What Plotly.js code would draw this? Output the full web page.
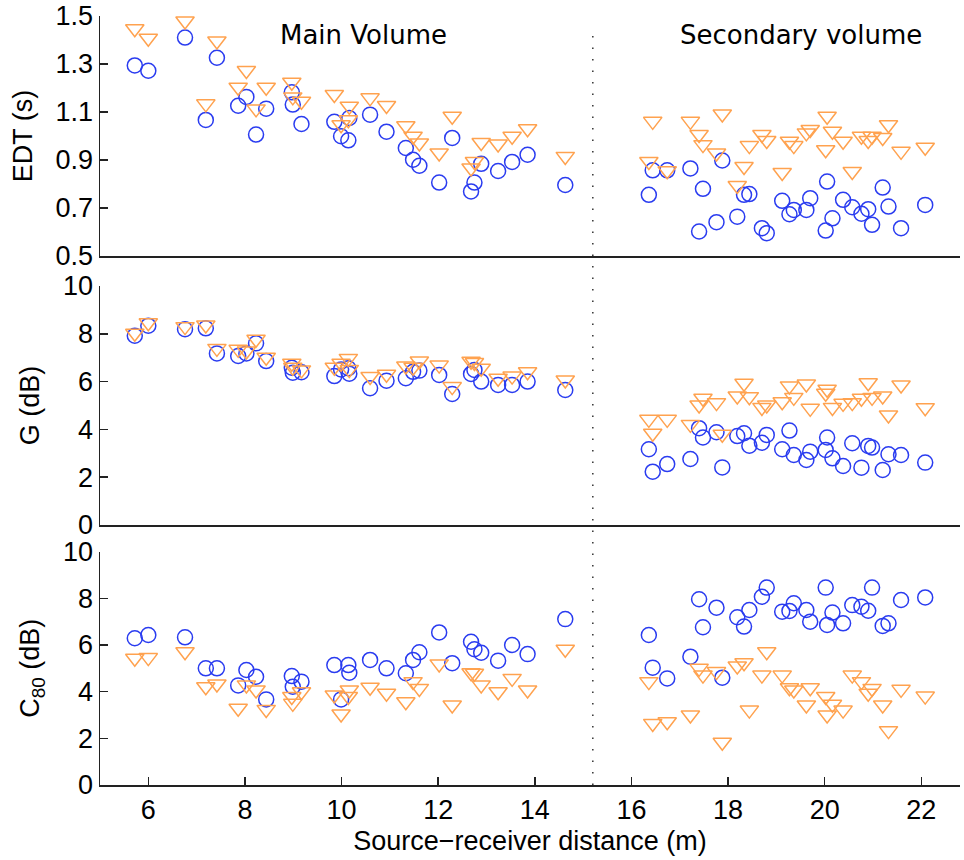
<!DOCTYPE html>
<html>
<head>
<meta charset="utf-8">
<script src="https://cdn.plot.ly/plotly-3.0.1.min.js"></script>
<style>html,body{margin:0;padding:0;background:#fff;}#chart{width:964px;height:860px;}</style>
</head>
<body>
<div id="chart"></div>
<script>
// Source-receiver distances (m)
const distMain = [5.72, 6.0, 6.76, 7.19, 7.42, 7.86, 8.03, 8.23, 8.44, 8.97, 8.99, 9.17, 9.85, 9.99, 10.14, 10.16, 10.59, 10.93, 11.33, 11.48, 11.61, 12.02, 12.29, 12.68, 12.75, 12.89, 13.24, 13.53, 13.85, 14.63];
const distSecondary = [16.36, 16.44, 16.74, 17.22, 17.40, 17.48, 17.76, 17.88, 18.19, 18.33, 18.44, 18.70, 18.80, 19.12, 19.27, 19.36, 19.62, 19.70, 20.02, 20.05, 20.16, 20.38, 20.57, 20.76, 20.90, 20.98, 21.20, 21.32, 21.58, 22.08];

// EDT (s) — circles (series A) and triangles (series B)
const edtMainA = [1.294, 1.272, 1.41, 1.067, 1.326, 1.126, 1.163, 1.006, 1.114, 1.182, 1.131, 1.05, 1.059, 0.999, 0.982, 1.075, 1.089, 1.018, 0.95, 0.901, 0.876, 0.806, 0.992, 0.769, 0.806, 0.884, 0.854, 0.892, 0.922, 0.796];
const edtMainB = [1.447, 1.407, 1.479, 1.134, 1.396, 1.203, 1.273, 1.113, 1.203, 1.224, 1.163, 1.145, 1.173, 1.047, 1.068, 1.124, 1.159, 1.127, 1.043, 0.999, 0.971, 0.929, 1.082, 0.867, 0.894, 0.973, 0.967, 0.999, 1.03, 0.915];
const edtSecA = [0.755, 0.857, 0.857, 0.865, 0.602, 0.78, 0.641, 0.898, 0.664, 0.755, 0.758, 0.616, 0.595, 0.73, 0.674, 0.692, 0.692, 0.741, 0.606, 0.81, 0.657, 0.734, 0.703, 0.676, 0.695, 0.63, 0.785, 0.706, 0.616, 0.713];
const edtSecB = [0.894, 1.061, 0.855, 1.061, 1.006, 0.964, 0.929, 1.092, 0.794, 0.873, 0.96, 1.006, 0.981, 0.848, 0.978, 0.96, 1.013, 1.027, 0.943, 1.082, 1.02, 0.978, 0.852, 0.999, 0.981, 0.999, 0.994, 1.047, 0.936, 0.953];

// G (dB)
const gMainA = [7.92, 8.34, 8.19, 8.23, 7.18, 7.07, 7.18, 7.60, 6.86, 6.58, 6.37, 6.39, 6.23, 6.51, 6.56, 6.33, 5.72, 6.04, 6.14, 6.41, 6.46, 6.28, 5.48, 6.32, 6.49, 6.0, 5.86, 5.86, 6.0, 5.65];
const gMainB = [8.02, 8.46, 8.30, 8.37, 7.39, 7.35, 7.28, 7.77, 7.02, 6.77, 6.60, 6.49, 6.60, 6.77, 6.97, 6.51, 6.21, 6.31, 6.65, 6.60, 6.86, 6.69, 5.79, 6.85, 6.80, 6.56, 6.14, 6.23, 6.41, 6.07];
const gSecA = [3.17, 2.23, 2.55, 2.76, 4.05, 3.66, 3.88, 2.41, 3.72, 3.84, 3.32, 3.44, 3.77, 3.17, 3.95, 2.93, 2.72, 3.07, 3.14, 3.66, 2.79, 2.47, 3.42, 2.40, 3.31, 3.24, 2.30, 2.96, 2.93, 2.61];
const gSecB = [4.42, 3.84, 4.42, 4.21, 5.02, 5.30, 5.12, 3.80, 5.40, 5.93, 5.37, 4.92, 5.02, 5.16, 5.82, 5.34, 5.90, 4.88, 5.51, 5.68, 4.92, 5.09, 5.12, 5.30, 5.95, 5.34, 5.40, 4.60, 5.86, 4.91];

// C80 (dB)
const cMainA = [6.29, 6.43, 6.33, 5.0, 5.0, 4.27, 4.93, 4.64, 3.67, 4.67, 4.21, 4.43, 5.14, 3.67, 5.14, 4.81, 5.36, 5.0, 4.79, 5.36, 5.69, 6.54, 5.22, 6.14, 5.82, 5.67, 5.33, 6.0, 5.61, 7.11];
const cMainB = [5.43, 5.46, 5.71, 4.21, 4.33, 3.29, 4.29, 4.07, 3.24, 3.79, 3.50, 4.0, 3.86, 3.04, 3.79, 4.07, 4.19, 3.93, 3.57, 4.43, 4.14, 5.19, 3.43, 4.81, 4.79, 4.29, 4.0, 4.57, 4.07, 5.82];
const cSecA = [6.43, 5.03, 4.57, 5.5, 7.96, 6.76, 7.6, 4.6, 7.19, 6.79, 7.5, 8.07, 8.46, 7.43, 7.46, 7.79, 7.5, 7.0, 8.46, 6.86, 7.39, 6.93, 7.71, 7.64, 7.47, 8.46, 6.82, 6.93, 7.93, 8.04];
const cSecB = [4.43, 2.64, 2.71, 3.0, 5.0, 4.71, 4.86, 1.83, 5.1, 5.24, 3.21, 4.71, 5.71, 4.71, 4.17, 4.07, 3.43, 4.17, 3.79, 3.0, 3.46, 3.21, 4.71, 4.43, 3.93, 4.14, 3.43, 2.33, 4.1, 3.81];

const panelTitles = ['Main Volume', 'Secondary volume'];
const xTicks = [6, 8, 10, 12, 14, 16, 18, 20, 22];
const edtTicks = [0.5, 0.7, 0.9, 1.1, 1.3, 1.5];
const dbTicks = [0, 2, 4, 6, 8, 10];
const divider = 15.2;

const blue = '#2a3cf0';
const orange = '#ffa24f';
const axisColor = '#222';
const tickFont = {family: 'Liberation Sans, Arial, sans-serif', size: 27, color: '#000'};
const titleFont = {family: 'Liberation Sans, Arial, sans-serif', size: 27, color: '#000'};

function circles(x, y, xa, ya) {
  return {x: x, y: y, xaxis: xa, yaxis: ya, type: 'scatter', mode: 'markers', hoverinfo: 'skip',
    marker: {symbol: 'circle-open', size: 15, color: blue, line: {color: blue, width: 1.5}}};
}
function tris(x, y, xa, ya) {
  return {x: x, y: y, xaxis: xa, yaxis: ya, type: 'scatter', mode: 'markers', hoverinfo: 'skip',
    marker: {symbol: 'triangle-down-open', size: 16, color: orange, line: {color: orange, width: 1.5}}};
}

const allDist = distMain.concat(distSecondary);
const traces = [
  circles(allDist, edtMainA.concat(edtSecA), 'x2', 'y2'),
  tris(allDist, edtMainB.concat(edtSecB), 'x2', 'y2'),
  circles(allDist, gMainA.concat(gSecA), 'x3', 'y3'),
  tris(allDist, gMainB.concat(gSecB), 'x3', 'y3'),
  circles(allDist, cMainA.concat(cSecA), 'x', 'y'),
  tris(allDist, cMainB.concat(cSecB), 'x', 'y')
];

const xRange = [5, 22.8];
const baseX = {range: xRange, showline: true, linecolor: axisColor, linewidth: 1.5, showgrid: false, zeroline: false, mirror: false, fixedrange: true};
const baseY = {showline: true, linecolor: axisColor, linewidth: 1.5, showgrid: false, zeroline: false, mirror: false,
  ticks: 'inside', ticklen: 8, tickwidth: 1.5, tickcolor: axisColor, tickfont: tickFont, fixedrange: true};

const layout = {
  width: 964, height: 860,
  margin: {l: 100, r: 4, t: 16, b: 75},
  paper_bgcolor: '#fff', plot_bgcolor: '#fff',
  showlegend: false,
  xaxis: Object.assign({}, baseX, {domain: [0, 1], anchor: 'y', ticks: 'inside', ticklen: 8, tickwidth: 1.5, tickcolor: axisColor,
    tickvals: xTicks, tickfont: tickFont,
    title: {text: 'Source\u2212receiver distance (m)', font: titleFont, standoff: 7}}),
  xaxis2: Object.assign({}, baseX, {domain: [0, 1], anchor: 'y2', matches: 'x', ticks: '', showticklabels: false}),
  xaxis3: Object.assign({}, baseX, {domain: [0, 1], anchor: 'y3', matches: 'x', ticks: '', showticklabels: false}),
  yaxis: Object.assign({}, baseY, {domain: [0, 0.3034], anchor: 'x', range: [0, 10], tickvals: dbTicks,
    title: {text: 'C<sub>80</sub> (dB)', font: titleFont, standoff: 15}}),
  yaxis2: Object.assign({}, baseY, {domain: [0.6879, 1], anchor: 'x2', range: [0.5, 1.5], tickvals: edtTicks, tickformat: '.1f',
    title: {text: 'EDT (s)', font: titleFont, standoff: 15}}),
  yaxis3: Object.assign({}, baseY, {domain: [0.3381, 0.6489], anchor: 'x3', range: [0, 10], tickvals: dbTicks,
    title: {text: 'G (dB)', font: titleFont, standoff: 15}}),
  shapes: [{type: 'line', xref: 'x', yref: 'paper', x0: divider, x1: divider, y0: 0, y1: 0.982,
    line: {color: '#333', width: 1.5, dash: '1.5px,10px'}}],
  annotations: [
    {text: panelTitles[0], xref: 'x2', yref: 'y2', x: 10.45, y: 1.42, showarrow: false,
     font: {family: 'DejaVu Sans, sans-serif', size: 26, color: '#000'}},
    {text: panelTitles[1], xref: 'x2', yref: 'y2', x: 19.5, y: 1.42, showarrow: false,
     font: {family: 'DejaVu Sans, sans-serif', size: 26, color: '#000'}}
  ]
};

Plotly.newPlot('chart', traces, layout, {displayModeBar: false, staticPlot: true});
</script>
</body>
</html>
